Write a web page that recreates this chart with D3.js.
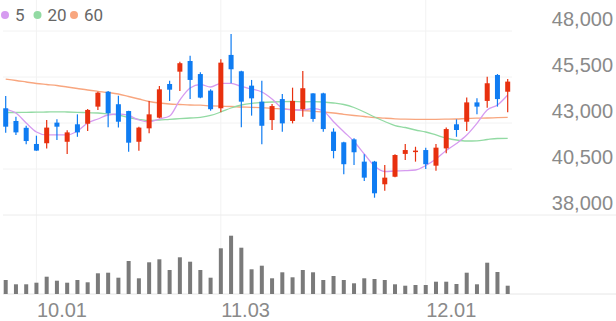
<!DOCTYPE html>
<html>
<head>
<meta charset="utf-8">
<script src="https://cdn.jsdelivr.net/npm/d3@7"></script>
<style>
  html, body { margin: 0; padding: 0; background: #fff; }
  svg { display: block; font-family: Roboto, sans-serif; }
</style>
</head>
<body>
<svg id="chart" width="616" height="321"></svg>
<script>
// trading days, MM.DD
const dates = ["09.26","09.29","09.30","10.01","10.02","10.10","10.13","10.14","10.15","10.16",
  "10.17","10.20","10.21","10.22","10.23","10.24","10.27","10.28","10.29","10.30",
  "10.31","11.03","11.04","11.05","11.06","11.07","11.10","11.11","11.12","11.13",
  "11.14","11.17","11.18","11.19","11.20","11.21","11.24","11.25","11.26","11.27",
  "11.28","12.01","12.02","12.03","12.04","12.05","12.08","12.09","12.10","12.11"];

const opens = [43800,43110,42740,41860,41900,43020,41980,42930,42960,43890,
  44700,44020,43650,41980,42710,43290,45120,45790,46370,45660,
  44760,43800,46700,45810,45030,44160,43160,44300,43110,43750,
  44610,44610,42530,41950,42110,40900,40900,39670,40080,41320,
  41440,41530,40680,41620,42930,43070,44120,44200,45610,44700];
const highs = [44470,43340,42850,42310,43160,43200,42600,43470,43760,44700,
  44740,44480,43660,42800,44200,45010,45300,46330,46660,45760,
  44830,46460,47840,45840,45340,45300,44030,44580,44920,45830,
  44620,44650,42710,41980,42170,41300,40940,40720,41300,41860,
  41710,41660,41860,42750,43200,44380,44340,45520,45660,45390];
const lows = [42470,42350,41840,41490,41620,42080,41320,42250,42570,43710,
  42770,42750,41440,41490,42440,43260,44200,44740,44300,44340,
  43670,43580,45160,42770,43400,41840,42620,42530,42980,43340,
  43070,42530,41080,40210,40720,39850,38940,39320,40050,40990,
  40900,40500,40410,41350,42250,42570,43470,43830,43890,43580];
const closes = [42800,42490,42020,41500,42750,42800,42490,42490,43710,44650,
  43530,43070,41930,42750,43470,44830,44810,46250,45340,44380,
  43750,46280,45920,44160,44340,42850,43920,42980,44200,44890,
  43220,42670,41480,40760,41410,40030,39180,40030,41260,41530,
  41500,40760,41660,42670,42620,44120,43890,45160,44300,45250];
const volumes = [140000,97000,97000,113000,173000,133000,113000,140000,117000,207000,
  213000,163000,330000,157000,317000,347000,240000,367000,323000,240000,
  163000,457000,583000,463000,247000,283000,157000,217000,167000,240000,
  217000,140000,180000,140000,107000,157000,150000,140000,97000,83000,
  90000,90000,123000,123000,100000,213000,97000,313000,220000,83000];

const ma5 = [43760,43540,43000,42510,42350,42350,42350,42565,43000,43217,
  43435,43489,43408,43163,43054,43217,43380,44250,44902,45092,
  44957,45158,45158,44984,44848,44685,44304,43815,43707,43707,
  43788,43652,43071,42527,41995,41315,40663,40364,40391,40408,
  40446,40690,41043,41505,41886,42348,42984,43707,43978,44522];
const ma20 = [43571,43571,43582,43587,43598,43609,43598,43582,43560,43543,
  43489,43435,43299,43201,43136,43163,43201,43234,43272,43310,
  43408,43598,43815,43978,44071,44114,44141,44158,44168,44152,
  44158,44141,44087,44005,43842,43598,43326,43082,42864,42755,
  42620,42511,42348,42185,42076,42022,42033,42103,42158,42168];
const ma60 = [45380,45310,45228,45147,45092,45038,44957,44875,44793,44723,
  44658,44576,44440,44304,44168,44087,44033,44005,43978,43967,
  43935,43913,43897,43870,43853,43826,43799,43761,43734,43679,
  43636,43598,43543,43473,43408,43353,43299,43261,43228,43207,
  43201,43201,43201,43207,43217,43245,43261,43272,43293,43310];

const priceTicks = [38000, 40500, 43000, 45500, 48000];
const dateTicks = ["10.01", "11.03", "12.01"];
const maNames = ["5", "20", "60"];
const maColors = ["#d69bf0", "#92daa3", "#f8a67f"];

const UP = "#e8300e", DOWN = "#0f7cf2";

const svg = d3.select("#chart");
const candles = dates.map((d, i) => ({ d, o: opens[i], h: highs[i], l: lows[i], c: closes[i], v: volumes[i] }));

const x = d3.scalePoint().domain(dates).range([5.7, 507.7]);
const y = d3.scaleLinear().domain([38000, 48000]).range([215, 31]);
const yVol = d3.scaleLinear().domain([0, 800000]).range([294, 214]);

// vertical grid at the month ticks
svg.append("g")
  .selectAll("line")
  .data(dateTicks)
  .join("line")
  .attr("x1", d => x(d)).attr("x2", d => x(d))
  .attr("y1", 0).attr("y2", 294)
  .attr("stroke", "#f2f2f2");

// horizontal price grid
svg.append("g")
  .selectAll("line")
  .data(priceTicks)
  .join("line")
  .attr("x1", 3)
  .attr("x2", d => d === 38000 ? 616 : 512)
  .attr("y1", d => y(d)).attr("y2", d => y(d))
  .attr("stroke", d => d === 38000 ? "#ececec" : "#f2f2f2");

// bottom line of the volume panel
svg.append("line")
  .attr("x1", 3).attr("x2", 616)
  .attr("y1", yVol(0)).attr("y2", yVol(0))
  .attr("stroke", "#e6e6e6");

// volume bars
svg.append("g")
  .selectAll("rect")
  .data(candles)
  .join("rect")
  .attr("x", d => x(d.d) - 2)
  .attr("width", 4)
  .attr("y", d => yVol(d.v))
  .attr("height", d => yVol(0) - yVol(d.v))
  .attr("fill", "#7a7a7a");

// moving averages
const line = d3.line()
  .x((v, i) => x(dates[i]))
  .y(v => y(v))
  .curve(d3.curveMonotoneX);

[ma60, ma20, ma5].forEach((series, k) => {
  svg.append("path")
    .datum(series)
    .attr("d", line)
    .attr("fill", "none")
    .attr("stroke", maColors[2 - k])
    .attr("stroke-width", 1.3);
});

// candles
const cg = svg.append("g")
  .selectAll("g")
  .data(candles)
  .join("g")
  .attr("fill", d => d.c >= d.o ? UP : DOWN)
  .attr("stroke", d => d.c >= d.o ? UP : DOWN);

cg.append("line")
  .attr("x1", d => x(d.d)).attr("x2", d => x(d.d))
  .attr("y1", d => y(d.h)).attr("y2", d => y(d.l))
  .attr("stroke-width", 1.2);

cg.append("rect")
  .attr("x", d => x(d.d) - 2.5)
  .attr("width", 5)
  .attr("y", d => y(Math.max(d.o, d.c)))
  .attr("height", d => Math.max(1.5, Math.abs(y(d.o) - y(d.c))))
  .attr("stroke", "none");

// price axis on the right
const yAxis = svg.append("g")
  .attr("transform", "translate(613,0)")
  .call(d3.axisLeft(y).tickValues(priceTicks).tickSize(0).tickPadding(0)
    .tickFormat(d3.format(",")));
yAxis.select(".domain").remove();
yAxis.selectAll("text")
  .attr("dy", -6)
  .attr("fill", "#8a8a8a")
  .style("font-size", "20px")
  .style("font-weight", 300);

// date axis
const xAxis = svg.append("g")
  .attr("transform", "translate(0,294)")
  .call(d3.axisBottom(x).tickValues(dateTicks).tickSize(0));
xAxis.select(".domain").remove();
xAxis.selectAll("text")
  .attr("y", 23).attr("dy", 0)
  .attr("text-anchor", "start")
  .attr("fill", "#8a8a8a")
  .style("font-size", "20px")
  .style("font-weight", 300);

// legend
const legend = svg.append("g")
  .selectAll("g")
  .data(maNames)
  .join("g")
  .attr("transform", (d, i) => `translate(${[5, 37.5, 74][i]},15)`);
legend.append("circle")
  .attr("r", 4)
  .attr("fill", (d, i) => maColors[i]);
legend.append("text")
  .attr("x", 10)
  .attr("y", 6)
  .attr("fill", "#666")
  .style("font-size", "17px")
  .text(d => d);
</script>
</body>
</html>
